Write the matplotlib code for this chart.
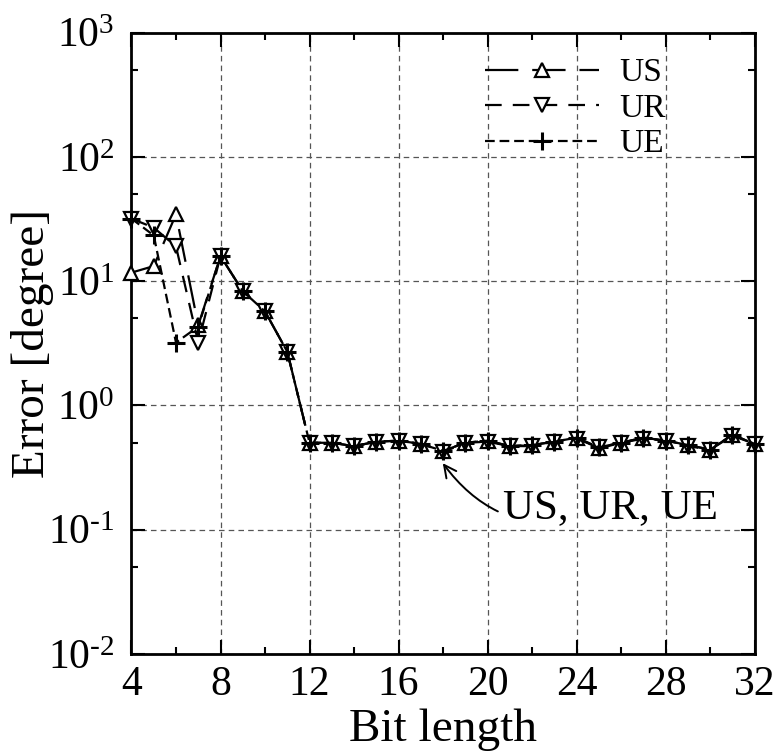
import math
import matplotlib
matplotlib.use("Agg")
import matplotlib.pyplot as plt
from matplotlib.ticker import LogLocator, FixedLocator, FuncFormatter

plt.rcParams["font.family"] = ["Liberation Serif", "DejaVu Serif"]
plt.rcParams["mathtext.fontset"] = "custom"
plt.rcParams["mathtext.rm"] = "Liberation Serif"
plt.rcParams["mathtext.it"] = "Liberation Serif:italic"
plt.rcParams["lines.scale_dashes"] = False

bits = list(range(4, 33))
us = [11.7, 13.2, 34.4, 4.4, 15.9, 8.3, 5.7, 2.7,
      0.50, 0.50, 0.47, 0.51, 0.52, 0.49, 0.43, 0.50, 0.52,
      0.47, 0.48, 0.51, 0.55, 0.45, 0.50, 0.55, 0.52, 0.48, 0.44, 0.58, 0.49]
ur = [31.8, 26.9, 19.0, 3.2, 15.9, 8.3, 5.7, 2.7,
      0.50, 0.50, 0.47, 0.51, 0.52, 0.49, 0.42, 0.50, 0.51,
      0.47, 0.47, 0.51, 0.54, 0.46, 0.50, 0.54, 0.52, 0.47, 0.44, 0.57, 0.49]
ue = [31.8, 23.3, 3.2, 4.3, 15.9, 8.3, 5.7, 2.7,
      0.50, 0.50, 0.47, 0.51, 0.52, 0.49, 0.43, 0.50, 0.52,
      0.47, 0.48, 0.51, 0.55, 0.46, 0.50, 0.55, 0.52, 0.48, 0.44, 0.58, 0.49]


def pow10(v, pos):
    # hyphen instead of a math minus, as in the original figure
    e = int(round(math.log10(v)))
    return r"$10^{%s}$" % str(e).replace("-", "\u2010")


fig = plt.figure(figsize=(7.78, 7.56), dpi=100)
ax = fig.add_axes([0.169, 0.135, 0.801, 0.822])

ax.plot(bits, us, color="black", lw=1.6, ls=(0, (24, 10)), marker="^", ms=10,
        mfc="white", mec="black", mew=1.6, label="US", clip_on=False, zorder=3)
ax.plot(bits, ur, color="black", lw=1.6, ls=(0, (12, 8)), marker="v", ms=10,
        mfc="white", mec="black", mew=1.6, label="UR", clip_on=False, zorder=3)
ax.plot(bits, ue, color="black", lw=1.6, ls=(0, (7, 3.5)), marker="+", ms=13,
        mec="black", mew=2.2, label="UE", clip_on=False, zorder=3)

ax.set_yscale("log")
ax.set_xlim(4, 32)
ax.set_ylim(1e-2, 1e3)
ax.xaxis.set_major_locator(FixedLocator(range(4, 33, 4)))
ax.xaxis.set_minor_locator(FixedLocator(range(6, 32, 4)))
ax.yaxis.set_major_locator(LogLocator(base=10, numticks=10))
ax.yaxis.set_minor_locator(LogLocator(base=10, subs=(5.0,), numticks=10))
ax.yaxis.set_major_formatter(FuncFormatter(pow10))

ax.tick_params(which="both", direction="in", top=True, right=True, width=1.5)
ax.tick_params(which="major", length=10, labelsize=30)
ax.tick_params(axis="x", which="major", pad=8)
ax.tick_params(axis="y", which="major", pad=12)
ax.tick_params(which="minor", length=5)
for s in ax.spines.values():
    s.set_linewidth(2)

ax.grid(True, which="major", ls=(0, (4, 3)), color="#555555", lw=0.9)

ax.set_xlabel("Bit length", fontsize=34)
ax.set_ylabel("Error [degree]", fontsize=34)
ax.xaxis.set_label_coords(0.5, -0.087)
ax.yaxis.set_label_coords(-0.125, 0.5)

ax.legend(loc="upper right", bbox_to_anchor=(0.894, 0.997), frameon=False,
          fontsize=24, handlelength=3.4, handletextpad=0.6,
          labelspacing=0.15, borderpad=0.2)

ax.annotate("US, UR, UE", xy=(17.95, 0.35), xytext=(20.7, 0.15),
            fontsize=31, va="center", ha="left",
            arrowprops=dict(arrowstyle="->", color="black", lw=1.4,
                            connectionstyle="arc3,rad=-0.4",
                            shrinkA=2, shrinkB=1, mutation_scale=22))

fig.savefig("out.png", dpi=100)
